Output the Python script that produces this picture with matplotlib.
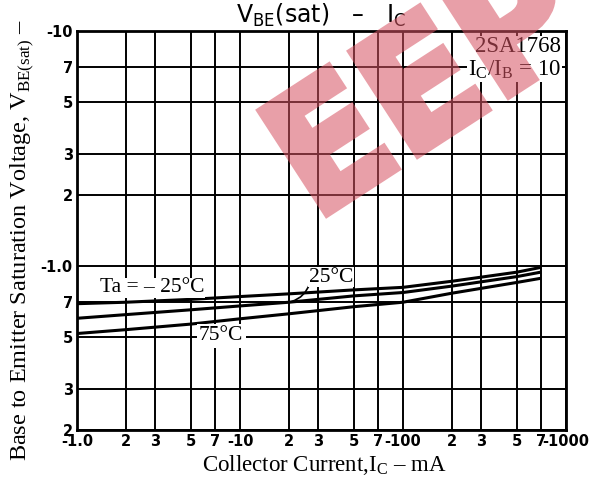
import matplotlib
matplotlib.use("Agg")
import matplotlib.pyplot as plt
import numpy as np
from matplotlib.textpath import TextPath
from matplotlib.patches import PathPatch
from matplotlib.font_manager import FontProperties
from matplotlib.transforms import Affine2D, IdentityTransform

plt.rcParams['mathtext.fontset'] = 'custom'
plt.rcParams['mathtext.rm'] = 'Liberation Serif'
plt.rcParams['mathtext.sf'] = 'DejaVu Sans'

# Data (absolute values; the datasheet uses negative polarity)
ic_ma = [1, 2, 5, 10, 20, 50, 100, 200, 500, 700]
vbe_m25 = [0.69, 0.70, 0.72, 0.74, 0.76, 0.79, 0.81, 0.86, 0.94, 0.985]
vbe_25 = [0.598, 0.62, 0.65, 0.675, 0.70, 0.745, 0.77, 0.82, 0.90, 0.94]
vbe_75 = [0.515, 0.535, 0.565, 0.595, 0.625, 0.67, 0.70, 0.765, 0.85, 0.885]

x_ticks = [1, 2, 3, 5, 7, 10, 20, 30, 50, 70, 100, 200, 300, 500, 700, 1000]
x_labels = ['-1.0', '2', '3', '5', '7', '-10', '2', '3', '5', '7', '-100',
            '2', '3', '5', '7', '-1000']
y_ticks = [0.2, 0.3, 0.5, 0.7, 1, 2, 3, 5, 7, 10]
y_labels = ['2', '3', '5', '7', '-1.0', '2', '3', '5', '7', '-10']

W, H = 589, 483
fig = plt.figure(figsize=(W / 100, H / 100), dpi=100)
ax = fig.add_axes([77 / W, 1 - 430 / H, (566 - 77) / W, (430 - 31) / H])
ax.set_xscale('log')
ax.set_yscale('log')
ax.set_xlim(1, 1000)
ax.set_ylim(0.2, 10)

ax.set_xticks(x_ticks)
ax.set_xticklabels(x_labels)
ax.set_yticks(y_ticks)
ax.set_yticklabels(y_labels)
ax.minorticks_off()
ax.tick_params(length=0, pad=3, labelsize=10.5)
for lab in ax.get_xticklabels() + ax.get_yticklabels():
    lab.set_fontweight('bold')
    lab.set_family('DejaVu Sans')

ax.grid(True, which='major', color='black', linewidth=1.4)
for s in ax.spines.values():
    s.set_linewidth(2)

for y in (vbe_m25, vbe_25, vbe_75):
    ax.plot(ic_ma, y, color='black', linewidth=2.2, solid_capstyle='butt')

# leader line for 25C label
ax.annotate('', xy=(20, 0.70), xytext=(27, 0.86),
            arrowprops=dict(arrowstyle='-', color='black', lw=1.2,
                            connectionstyle='arc3,rad=-0.3'))


def px(x, y):
    return x / W, 1 - y / H


serif = 'Liberation Serif'
wb = dict(facecolor='white', edgecolor='none', pad=0.5)
fig.text(*px(100, 288), 'Ta = \u2013 25\u00b0C', fontsize=15.5, family=serif,
         va='center', ha='left', bbox=wb)
fig.text(*px(309, 277), '25\u00b0C', fontsize=15.5, family=serif,
         va='center', ha='left', bbox=wb)
fig.text(*px(199, 336), '75\u00b0C', fontsize=15.5, family=serif,
         va='center', ha='left', bbox=dict(facecolor='white', edgecolor='none', pad=1.5))

fig.text(*px(561, 47), '2SA1768', fontsize=16.5, family=serif,
         ha='right', va='center', bbox=wb)
fig.text(*px(561, 70), r'I$_{\rm C}$/I$_{\rm B}$ = 10', fontsize=16.5, family=serif,
         ha='right', va='center', bbox=wb)

EN = '\u2013'
fig.text(*px(321, 15), r'$\mathsf{V_{BE}(sat)}$   ' + EN + r'   $\mathsf{I_C}$',
         ha='center', va='center', fontsize=17, family='DejaVu Sans')
fig.text(*px(324, 465), r'Collector Current,I$_{\rm C}$ ' + EN + ' mA',
         ha='center', va='center', fontsize=16.5, family=serif)
fig.text(*px(22, 240), r'Base to Emitter Saturation Voltage, V$_{\rm BE(sat)}$ ' + EN,
         ha='center', va='center', rotation=90, fontsize=17.5, family=serif)

# watermark (semi-transparent overlay)
tp = TextPath((0, 0), 'EEPW', size=167,
              prop=FontProperties(family='DejaVu Sans', weight='bold'))
wm_tr = Affine2D().scale(0.95, 1.0).rotate_deg(33).translate(315, H - 213 - 8)
wm_col = (215 / 255, 84 / 255, 99 / 255)
wm = PathPatch(tp, facecolor=wm_col, edgecolor=wm_col, linewidth=6,
               transform=wm_tr + IdentityTransform(), zorder=10)


def fade(img, dpi):
    img = img.copy()
    img[..., 3] *= 0.56
    return img, 0, 0


wm.set_agg_filter(fade)
fig.add_artist(wm)

fig.savefig('out.png', dpi=100)
